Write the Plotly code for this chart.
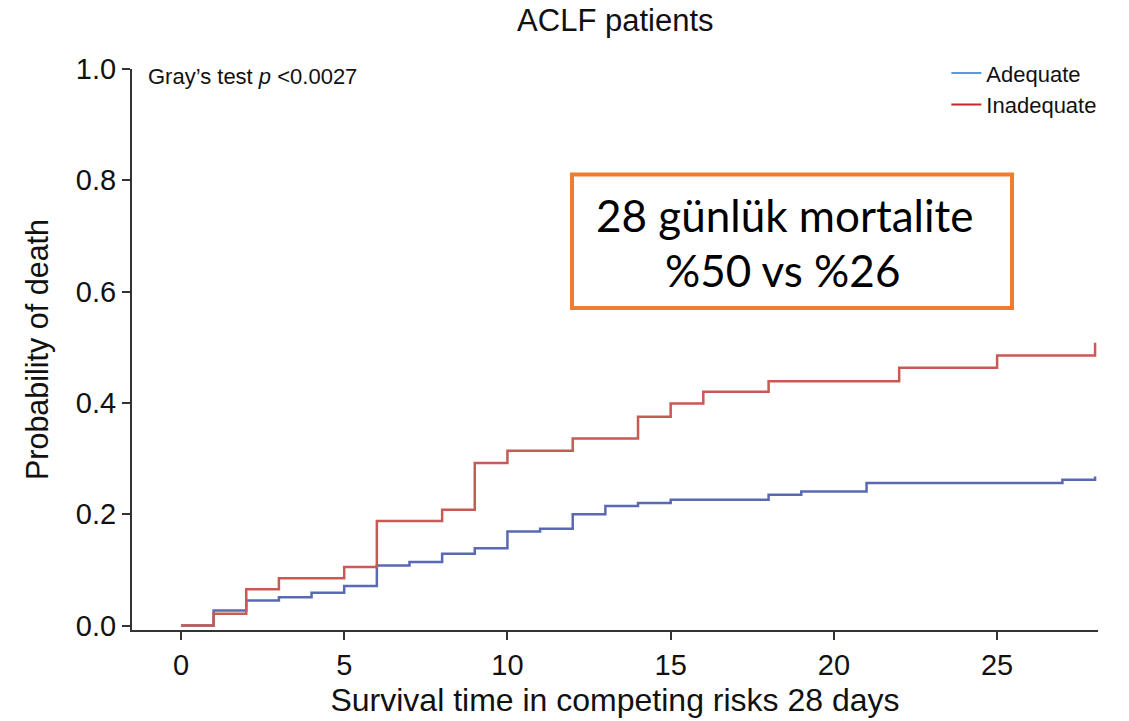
import plotly.graph_objects as go

# ---- data ----
days_adequate = [0, 1, 2, 3, 4, 5, 6, 7, 8, 9, 10, 11, 12, 13, 14, 15, 18, 19, 21, 27, 28]
prob_adequate = [0.0, 0.027, 0.045, 0.051, 0.059, 0.071, 0.108, 0.114, 0.129, 0.139,
                 0.169, 0.174, 0.200, 0.215, 0.220, 0.226, 0.235, 0.241, 0.256, 0.262, 0.268]

days_inadequate = [0, 1, 2, 3, 5, 6, 8, 9, 10, 12, 14, 15, 16, 18, 22, 25, 28]
prob_inadequate = [0.0, 0.021, 0.065, 0.085, 0.105, 0.188, 0.208, 0.292, 0.314,
                   0.336, 0.375, 0.399, 0.420, 0.439, 0.463, 0.485, 0.508]

series_names = ["Adequate", "Inadequate"]
x_ticks = [0, 5, 10, 15, 20, 25]
y_ticks = [0.0, 0.2, 0.4, 0.6, 0.8, 1.0]

FONT = "Liberation Sans, Arial, Helvetica, sans-serif"
AX = "#333333"

fig = go.Figure()

# curves
fig.add_trace(go.Scatter(x=days_adequate, y=prob_adequate, mode="lines", line_shape="hv",
                         line=dict(color="#5a69b3", width=2.5), showlegend=False,
                         hoverinfo="x+y", name=series_names[0]))
fig.add_trace(go.Scatter(x=days_inadequate, y=prob_inadequate, mode="lines", line_shape="hv",
                         line=dict(color="#c75a55", width=2.5), showlegend=False,
                         hoverinfo="x+y", name=series_names[1]))

# legend entries
fig.add_trace(go.Scatter(x=[None], y=[None], mode="lines", name=series_names[0],
                         line=dict(color="#5b9bd5", width=2)))
fig.add_trace(go.Scatter(x=[None], y=[None], mode="lines", name=series_names[1],
                         line=dict(color="#c0282a", width=2)))

fig.update_layout(
    width=1129, height=721,
    margin=dict(l=132, r=31, t=69, b=91, autoexpand=False),
    paper_bgcolor="white", plot_bgcolor="white",
    font=dict(family=FONT, color="#111111"),
    title=dict(text="ACLF patients", x=0.545, xanchor="center", y=0.972, yanchor="middle",
               yref="container", font=dict(size=31, family=FONT, color="#111111")),
    legend=dict(x=0.843, xanchor="left", y=1.03, yanchor="top",
                bgcolor="rgba(0,0,0,0)", font=dict(size=22, family=FONT, color="#111111"),
                tracegroupgap=0),
    xaxis=dict(range=[-1.5, 28.09], tickvals=x_ticks, ticks="outside", ticklen=8,
               tickwidth=2, tickcolor=AX, showline=True, linecolor=AX, linewidth=2,
               showgrid=False, zeroline=False, automargin=False,
               tickfont=dict(size=29, color="#111111"),
               title=dict(text="Survival time in competing risks 28 days",
                          font=dict(size=32, color="#111111"), standoff=9)),
    yaxis=dict(range=[-0.008, 1.0], tickvals=y_ticks, tickformat=".1f", ticks="outside",
               ticklen=8, tickwidth=2, tickcolor=AX, showline=True, linecolor=AX,
               linewidth=2, showgrid=False, zeroline=False, automargin=False,
               tickfont=dict(size=29, color="#111111"),
               title=dict(text="Probability of death", font=dict(size=30.5, color="#111111"),
                          standoff=18)),
)

# Gray's test annotation
fig.add_annotation(xref="paper", yref="paper", x=0.0145, y=0.9875, xanchor="left",
                   yanchor="middle", showarrow=False,
                   text="Gray’s test <i>p</i> &lt;0.0027",
                   font=dict(size=22, family=FONT, color="#111111"))

# Orange box with Turkish text
fig.add_shape(type="rect", xref="paper", yref="paper", x0=0.4555, x1=0.911, y0=0.574, y1=0.812,
              line=dict(color="#ed7d31", width=4), fillcolor="white", layer="above")
fig.add_annotation(xref="paper", yref="paper", x=(784 - 132) / 966, y=(630.5 - 215) / 561.5,
                   xanchor="center", yanchor="middle", showarrow=False,
                   text="28 günlük mortalite",
                   font=dict(size=44, family="Lato, Carlito, sans-serif", color="#000000"))
fig.add_annotation(xref="paper", yref="paper", x=(782 - 132) / 966, y=(630.5 - 270) / 561.5,
                   xanchor="center", yanchor="middle", showarrow=False,
                   text="%50 vs %26",
                   font=dict(size=44, family="Lato, Carlito, sans-serif", color="#000000"))

fig.write_html("out.html")
